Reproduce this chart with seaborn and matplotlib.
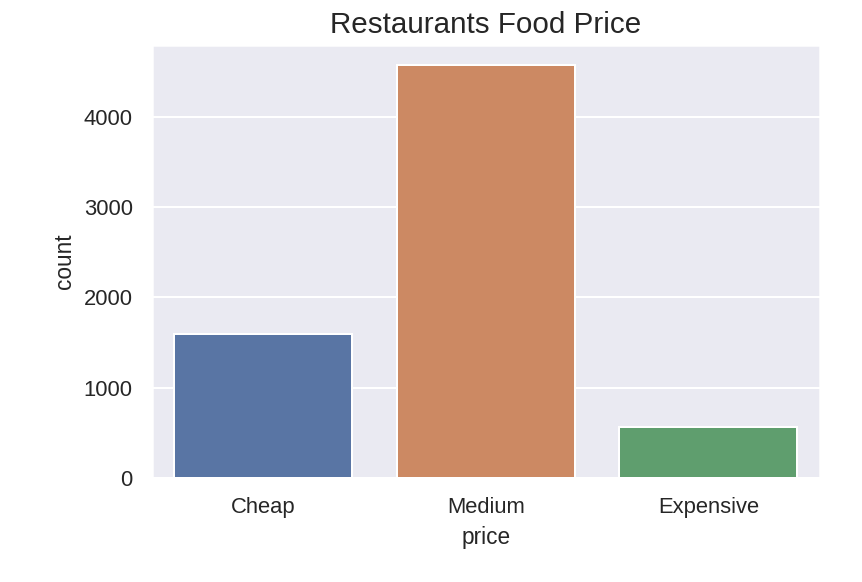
import matplotlib
matplotlib.use("Agg")
import matplotlib.pyplot as plt
import seaborn as sns
import pandas as pd

categories = ["Cheap", "Medium", "Expensive"]
counts = [1590, 4572, 560]

sns.set_theme(style="darkgrid")
plt.rcParams['font.family'] = ['Liberation Sans', 'DejaVu Sans']

df = pd.DataFrame({"price": categories, "count": counts})

fig, ax = plt.subplots(figsize=(862/144, 582/144), dpi=144)
fig.subplots_adjust(left=0.176, right=0.951, top=0.923, bottom=0.179)
sns.barplot(data=df, x="price", y="count", hue="price", palette="deep",
            legend=False, ax=ax, edgecolor="white", linewidth=1)
ax.set_title("Restaurants Food Price", fontsize=14.8)
ax.set_xlabel("price", fontsize=11.3)
ax.set_ylabel("count", fontsize=11.3)
fig.savefig("out.png", dpi=144)
